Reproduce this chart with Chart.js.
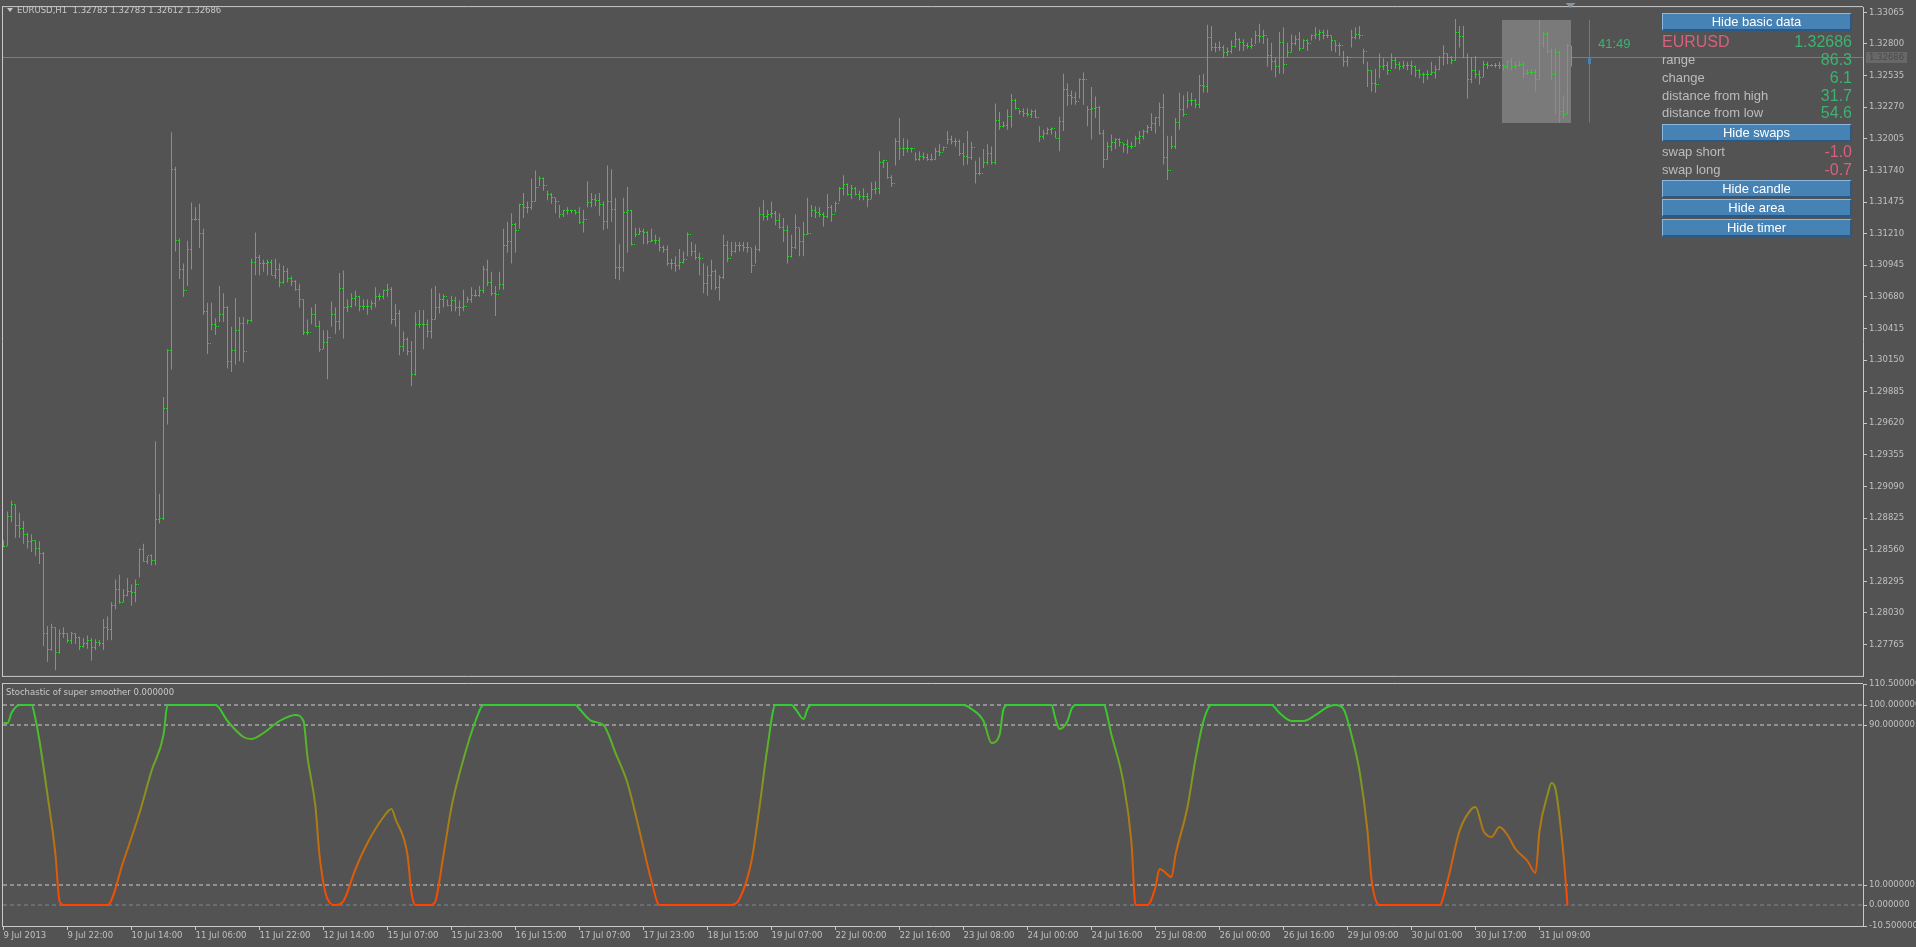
<!DOCTYPE html>
<html>
<head>
<meta charset="utf-8">
<script src="https://cdn.jsdelivr.net/npm/chart.js@4.4.0/dist/chart.umd.min.js"></script>
<style>
  html, body { margin: 0; padding: 0; background: #535353; width: 1916px; height: 947px; overflow: hidden; }
  canvas { position: absolute; left: 0; }
  #mainChart { top: 0; }
  #stochChart { top: 670px; }
  .txt { position: absolute; font-family: "DejaVu Sans"; font-size: 8.5px; line-height: 10px; color: #c8c8c8; white-space: pre; z-index: 2; }
  .tri { position: absolute; left: 7px; top: 8px; width: 0; height: 0; border-left: 3px solid transparent; border-right: 3px solid transparent; border-top: 4px solid #c8c8c8; z-index: 2; }
  .btn { position: absolute; left: 1662px; width: 187px; height: 15px; background: #4682b4; border-top: 1px solid #8ab8e0; border-left: 1px solid #8ab8e0; border-bottom: 2px solid #2b5884; border-right: 2px solid #2b5884; color: #fff; font: 13px "Liberation Sans"; line-height: 15px; text-align: center; z-index: 2; }
  .lbl { position: absolute; left: 1662px; font: 13px "Liberation Sans"; line-height: 16px; color: #bcbcbc; z-index: 2; }
  .val { position: absolute; right: 64px; font: 16px "Liberation Sans"; line-height: 18px; color: #3cb371; text-align: right; z-index: 2; }
  .red { color: #d8607f; }
</style>
</head>
<body>
<canvas id="mainChart" width="1916" height="683"></canvas>
<canvas id="stochChart" width="1916" height="277"></canvas>

<div class="tri"></div>
<div class="txt" style="left:17px;top:5px">EURUSD,H1  1.32783 1.32783 1.32612 1.32686</div>
<div class="txt" style="left:6px;top:687px">Stochastic of super smoother 0.000000</div>
<div class="val" style="left:1598px;right:auto;top:35px;font-size:13px">41:49</div>

<div class="btn" style="top:13px">Hide basic data</div>
<div class="lbl red" style="top:33px;font-size:16px;line-height:18px">EURUSD</div>
<div class="val" style="top:33px">1.32686</div>
<div class="lbl" style="top:52px">range</div>
<div class="val" style="top:51px">86.3</div>
<div class="lbl" style="top:70px">change</div>
<div class="val" style="top:69px">6.1</div>
<div class="lbl" style="top:88px">distance from high</div>
<div class="val" style="top:87px">31.7</div>
<div class="lbl" style="top:105px">distance from low</div>
<div class="val" style="top:104px">54.6</div>
<div class="btn" style="top:124px">Hide swaps</div>
<div class="lbl" style="top:144px">swap short</div>
<div class="val red" style="top:143px">-1.0</div>
<div class="lbl" style="top:162px">swap long</div>
<div class="val red" style="top:161px">-0.7</div>
<div class="btn" style="top:180px">Hide candle</div>
<div class="btn" style="top:199px">Hide area</div>
<div class="btn" style="top:219px">Hide timer</div>

<script>
// EURUSD H1, 9 Jul 2013 06:00 -> 31 Jul 2013 17:00 (one value per bar)
const highs = [
  1.2864, 1.2888, 1.2897, 1.2894, 1.2887, 1.2880, 1.2870, 1.2869, 1.2864, 1.2863,
  1.2854, 1.2792, 1.2794, 1.2791, 1.2789, 1.2791, 1.2786, 1.2787, 1.2786, 1.2783,
  1.2782, 1.2784, 1.2782, 1.2781, 1.2780, 1.2798, 1.2800, 1.2812, 1.2831, 1.2835,
  1.2823, 1.2832, 1.2827, 1.2831, 1.2857, 1.2861, 1.2851, 1.2852, 1.2947, 1.2903,
  1.2984, 1.3024, 1.3206, 1.3177, 1.3117, 1.3096, 1.3115, 1.3147, 1.3143, 1.3146,
  1.3125, 1.3063, 1.3063, 1.3050, 1.3077, 1.3071, 1.3060, 1.3043, 1.3067, 1.3051,
  1.3051, 1.3049, 1.3100, 1.3122, 1.3103, 1.3099, 1.3099, 1.3099, 1.3100, 1.3096,
  1.3094, 1.3092, 1.3085, 1.3082, 1.3079, 1.3066, 1.3049, 1.3059, 1.3062, 1.3048,
  1.3040, 1.3040, 1.3064, 1.3059, 1.3088, 1.3090, 1.3066, 1.3071, 1.3073, 1.3069,
  1.3066, 1.3066, 1.3065, 1.3076, 1.3071, 1.3074, 1.3079, 1.3076, 1.3062, 1.3057,
  1.3039, 1.3034, 1.3031, 1.3055, 1.3057, 1.3057, 1.3049, 1.3075, 1.3077, 1.3071,
  1.3070, 1.3066, 1.3069, 1.3068, 1.3065, 1.3074, 1.3068, 1.3076, 1.3074, 1.3077,
  1.3094, 1.3099, 1.3089, 1.3077, 1.3089, 1.3125, 1.3131, 1.3138, 1.3130, 1.3146,
  1.3155, 1.3148, 1.3167, 1.3174, 1.3169, 1.3168, 1.3157, 1.3155, 1.3151, 1.3145,
  1.3141, 1.3143, 1.3141, 1.3141, 1.3143, 1.3141, 1.3165, 1.3155, 1.3154, 1.3155,
  1.3148, 1.3178, 1.3175, 1.3151, 1.3112, 1.3151, 1.3160, 1.3141, 1.3126, 1.3126,
  1.3125, 1.3123, 1.3125, 1.3120, 1.3118, 1.3111, 1.3111, 1.3100, 1.3102, 1.3108,
  1.3106, 1.3122, 1.3114, 1.3112, 1.3105, 1.3096, 1.3094, 1.3099, 1.3091, 1.3086,
  1.3120, 1.3115, 1.3114, 1.3114, 1.3114, 1.3114, 1.3114, 1.3109, 1.3111, 1.3143,
  1.3149, 1.3141, 1.3148, 1.3140, 1.3138, 1.3134, 1.3128, 1.3120, 1.3137, 1.3126,
  1.3131, 1.3151, 1.3145, 1.3144, 1.3143, 1.3139, 1.3154, 1.3145, 1.3148, 1.3160,
  1.3170, 1.3163, 1.3162, 1.3160, 1.3157, 1.3159, 1.3155, 1.3164, 1.3165, 1.3190,
  1.3183, 1.3181, 1.3170, 1.3201, 1.3218, 1.3201, 1.3200, 1.3193, 1.3189, 1.3190,
  1.3189, 1.3188, 1.3188, 1.3193, 1.3196, 1.3194, 1.3207, 1.3203, 1.3201, 1.3200,
  1.3197, 1.3207, 1.3198, 1.3182, 1.3185, 1.3192, 1.3196, 1.3194, 1.3230, 1.3223,
  1.3215, 1.3225, 1.3238, 1.3234, 1.3225, 1.3226, 1.3226, 1.3225, 1.3225, 1.3211,
  1.3208, 1.3210, 1.3210, 1.3207, 1.3219, 1.3255, 1.3247, 1.3241, 1.3240, 1.3251,
  1.3256, 1.3228, 1.3244, 1.3236, 1.3228, 1.3208, 1.3198, 1.3204, 1.3201, 1.3201,
  1.3197, 1.3200, 1.3198, 1.3203, 1.3207, 1.3208, 1.3212, 1.3222, 1.3219, 1.3231,
  1.3238, 1.3203, 1.3203, 1.3218, 1.3239, 1.3237, 1.3240, 1.3239, 1.3234, 1.3254,
  1.3255, 1.3296, 1.3295, 1.3281, 1.3282, 1.3279, 1.3277, 1.3283, 1.3290, 1.3285,
  1.3284, 1.3281, 1.3285, 1.3291, 1.3297, 1.3292, 1.3285, 1.3281, 1.3268, 1.3290,
  1.3294, 1.3281, 1.3288, 1.3287, 1.3290, 1.3284, 1.3284, 1.3288, 1.3294, 1.3292,
  1.3292, 1.3292, 1.3287, 1.3283, 1.3281, 1.3274, 1.3270, 1.3292, 1.3294, 1.3295,
  1.3276, 1.3265, 1.3258, 1.3259, 1.3272, 1.3268, 1.3265, 1.3272, 1.3269, 1.3265,
  1.3266, 1.3265, 1.3266, 1.3262, 1.3259, 1.3256, 1.3258, 1.3265, 1.3262, 1.3270,
  1.3279, 1.3272, 1.3270, 1.3301, 1.3295, 1.3295, 1.3272, 1.3269, 1.3270, 1.3258,
  1.3266, 1.3265, 1.3263, 1.3264, 1.3265, 1.3263, 1.3266, 1.3268, 1.3265, 1.3266,
  1.3265, 1.3259, 1.3259, 1.3259, 1.33003, 1.3290, 1.3290, 1.3276, 1.3276, 1.3274,
  1.3237, 1.3280, 1.32783
];
const lows = [
  1.2858, 1.2859, 1.2879, 1.2866, 1.2866, 1.2861, 1.2857, 1.2854, 1.2851, 1.2844,
  1.2775, 1.2762, 1.2771, 1.2755, 1.2769, 1.2782, 1.2778, 1.2777, 1.2777, 1.2772,
  1.2774, 1.2773, 1.2763, 1.2772, 1.2775, 1.2772, 1.2780, 1.2780, 1.2806, 1.2811,
  1.2812, 1.2817, 1.2809, 1.2812, 1.2833, 1.2846, 1.2844, 1.2843, 1.2843, 1.2878,
  1.2881, 1.2961, 1.3007, 1.3106, 1.3083, 1.3068, 1.3077, 1.3091, 1.3132, 1.3109,
  1.3053, 1.3020, 1.3040, 1.3036, 1.3047, 1.3047, 1.3008, 1.3005, 1.3011, 1.3014,
  1.3013, 1.3045, 1.3047, 1.3086, 1.3086, 1.3089, 1.3086, 1.3086, 1.3083, 1.3076,
  1.3079, 1.3080, 1.3077, 1.3073, 1.3059, 1.3036, 1.3036, 1.3045, 1.3043, 1.3022,
  1.3024, 1.2999, 1.3043, 1.3037, 1.3040, 1.3033, 1.3055, 1.3059, 1.3060, 1.3056,
  1.3057, 1.3053, 1.3057, 1.3059, 1.3065, 1.3066, 1.3068, 1.3045, 1.3043, 1.3019,
  1.3022, 1.3019, 1.2993, 1.3002, 1.3042, 1.3024, 1.3034, 1.3033, 1.3049, 1.3054,
  1.3059, 1.3060, 1.3056, 1.3056, 1.3052, 1.3056, 1.3063, 1.3063, 1.3068, 1.3068,
  1.3071, 1.3077, 1.3069, 1.3052, 1.3074, 1.3074, 1.3105, 1.3096, 1.3105, 1.3125,
  1.3134, 1.3138, 1.3141, 1.3148, 1.3161, 1.3157, 1.3149, 1.3146, 1.3138, 1.3134,
  1.3135, 1.3137, 1.3138, 1.3137, 1.3129, 1.3122, 1.3143, 1.3143, 1.3144, 1.3136,
  1.3124, 1.3125, 1.3131, 1.3083, 1.3082, 1.3089, 1.3105, 1.3111, 1.3118, 1.3120,
  1.3112, 1.3112, 1.3114, 1.3112, 1.3106, 1.3105, 1.3094, 1.3091, 1.3089, 1.3091,
  1.3096, 1.3102, 1.3102, 1.3099, 1.3086, 1.3071, 1.3069, 1.3074, 1.3074, 1.3065,
  1.3083, 1.3097, 1.3102, 1.3105, 1.3106, 1.3106, 1.3105, 1.3088, 1.3096, 1.3106,
  1.3132, 1.3132, 1.3134, 1.3128, 1.3125, 1.3114, 1.3096, 1.3101, 1.3108, 1.3102,
  1.3102, 1.3120, 1.3135, 1.3134, 1.3135, 1.3127, 1.3134, 1.3131, 1.3139, 1.3148,
  1.3153, 1.3153, 1.3150, 1.3153, 1.3149, 1.3149, 1.3143, 1.3150, 1.3154, 1.3154,
  1.3176, 1.3167, 1.3160, 1.3178, 1.3183, 1.3186, 1.3189, 1.3189, 1.3182, 1.3182,
  1.3183, 1.3182, 1.3182, 1.3183, 1.3186, 1.3190, 1.3196, 1.3196, 1.3194, 1.3186,
  1.3178, 1.3179, 1.3183, 1.3163, 1.3170, 1.3176, 1.3179, 1.3179, 1.3179, 1.3208,
  1.3210, 1.3208, 1.3210, 1.3225, 1.3221, 1.3219, 1.3219, 1.3218, 1.3218, 1.3198,
  1.3200, 1.3204, 1.3204, 1.3201, 1.3190, 1.3207, 1.3228, 1.3229, 1.3229, 1.3234,
  1.3229, 1.3211, 1.3200, 1.3218, 1.3204, 1.3176, 1.3183, 1.3190, 1.3192, 1.3194,
  1.3189, 1.3188, 1.3192, 1.3194, 1.3196, 1.3200, 1.3205, 1.3207, 1.3205, 1.3211,
  1.3179, 1.3166, 1.3192, 1.3192, 1.3208, 1.3219, 1.3226, 1.3228, 1.3226, 1.3226,
  1.3239, 1.3239, 1.3274, 1.3273, 1.3274, 1.3268, 1.3270, 1.3272, 1.3277, 1.3274,
  1.3274, 1.3276, 1.3276, 1.3280, 1.3281, 1.3280, 1.3261, 1.3258, 1.3252, 1.3255,
  1.3255, 1.3269, 1.3273, 1.3279, 1.3274, 1.3276, 1.3274, 1.3283, 1.3284, 1.3283,
  1.3284, 1.3285, 1.3274, 1.3273, 1.3270, 1.3261, 1.3261, 1.3277, 1.3284, 1.3284,
  1.3263, 1.3244, 1.3240, 1.3239, 1.3251, 1.3258, 1.3254, 1.3259, 1.3259, 1.3258,
  1.3259, 1.3258, 1.3254, 1.3252, 1.3251, 1.3247, 1.3250, 1.3254, 1.3251, 1.3258,
  1.3262, 1.3263, 1.3263, 1.3266, 1.3277, 1.3268, 1.3234, 1.3247, 1.3251, 1.3246,
  1.3252, 1.3259, 1.3261, 1.3260, 1.3259, 1.3258, 1.3259, 1.3258, 1.3259, 1.3261,
  1.3251, 1.3254, 1.3254, 1.3240, 1.3250, 1.3277, 1.3272, 1.3250, 1.3221, 1.3214,
  1.3218, 1.3221, 1.32612
];
const closes = [
  1.2859, 1.2884, 1.2894, 1.2876, 1.2874, 1.2869, 1.2863, 1.2864, 1.2857, 1.2853,
  1.2786, 1.2772, 1.2791, 1.2770, 1.2786, 1.2786, 1.2780, 1.2786, 1.2782, 1.2775,
  1.2777, 1.2780, 1.2774, 1.2778, 1.2777, 1.2791, 1.2789, 1.2809, 1.2823, 1.2812,
  1.2818, 1.2821, 1.2820, 1.2827, 1.2856, 1.2846, 1.2851, 1.2847, 1.2881, 1.2882,
  1.2974, 1.3023, 1.3175, 1.3115, 1.3091, 1.3073, 1.3108, 1.3133, 1.3133, 1.3121,
  1.3056, 1.3029, 1.3045, 1.3043, 1.3053, 1.3059, 1.3014, 1.3023, 1.3040, 1.3046,
  1.3022, 1.3048, 1.3097, 1.3101, 1.3096, 1.3096, 1.3097, 1.3086, 1.3091, 1.3080,
  1.3089, 1.3083, 1.3081, 1.3074, 1.3066, 1.3038, 1.3038, 1.3053, 1.3043, 1.3024,
  1.3030, 1.3034, 1.3053, 1.3047, 1.3075, 1.3059, 1.3060, 1.3067, 1.3068, 1.3060,
  1.3060, 1.3060, 1.3062, 1.3068, 1.3068, 1.3073, 1.3074, 1.3049, 1.3054, 1.3026,
  1.3032, 1.3022, 1.3003, 1.3045, 1.3045, 1.3045, 1.3039, 1.3049, 1.3059, 1.3066,
  1.3068, 1.3061, 1.3065, 1.3059, 1.3059, 1.3060, 1.3066, 1.3069, 1.3069, 1.3073,
  1.3091, 1.3080, 1.3071, 1.3070, 1.3078, 1.3111, 1.3114, 1.3129, 1.3124, 1.3145,
  1.3143, 1.3143, 1.3148, 1.3160, 1.3167, 1.3161, 1.3154, 1.3151, 1.3148, 1.3137,
  1.3140, 1.3140, 1.3140, 1.3139, 1.3130, 1.3133, 1.3147, 1.3150, 1.3149, 1.3145,
  1.3131, 1.3148, 1.3141, 1.3093, 1.3093, 1.3139, 1.3140, 1.3112, 1.3120, 1.3123,
  1.3122, 1.3114, 1.3115, 1.3115, 1.3109, 1.3108, 1.3096, 1.3096, 1.3094, 1.3097,
  1.3099, 1.3120, 1.3106, 1.3101, 1.3100, 1.3079, 1.3086, 1.3089, 1.3076, 1.3084,
  1.3111, 1.3100, 1.3106, 1.3111, 1.3111, 1.3109, 1.3109, 1.3094, 1.3108, 1.3137,
  1.3135, 1.3137, 1.3138, 1.3132, 1.3126, 1.3124, 1.3102, 1.3109, 1.3126, 1.3114,
  1.3120, 1.3121, 1.3140, 1.3139, 1.3137, 1.3135, 1.3143, 1.3137, 1.3146, 1.3159,
  1.3162, 1.3154, 1.3159, 1.3154, 1.3152, 1.3152, 1.3150, 1.3158, 1.3159, 1.3181,
  1.3182, 1.3168, 1.3163, 1.3198, 1.3192, 1.3192, 1.3192, 1.3192, 1.3183, 1.3186,
  1.3185, 1.3183, 1.3183, 1.3190, 1.3189, 1.3193, 1.3200, 1.3198, 1.3198, 1.3188,
  1.3186, 1.3185, 1.3193, 1.3171, 1.3171, 1.3181, 1.3188, 1.3181, 1.3216, 1.3211,
  1.3212, 1.3219, 1.3233, 1.3226, 1.3223, 1.3222, 1.3221, 1.3223, 1.3218, 1.3202,
  1.3205, 1.3208, 1.3209, 1.3201, 1.3215, 1.3242, 1.3237, 1.3235, 1.3232, 1.3250,
  1.3250, 1.3225, 1.3226, 1.3227, 1.3205, 1.3183, 1.3194, 1.3197, 1.3200, 1.3197,
  1.3196, 1.3194, 1.3194, 1.3201, 1.3202, 1.3207, 1.3210, 1.3213, 1.3218, 1.3227,
  1.3185, 1.3174, 1.3194, 1.3214, 1.3225, 1.3221, 1.3233, 1.3233, 1.3229, 1.3245,
  1.3244, 1.3285, 1.3277, 1.3277, 1.3277, 1.3273, 1.3274, 1.3278, 1.3284, 1.3281,
  1.3279, 1.3278, 1.3279, 1.3287, 1.3286, 1.3287, 1.3270, 1.3265, 1.3261, 1.3281,
  1.3263, 1.3273, 1.3280, 1.3284, 1.3276, 1.3283, 1.3280, 1.3287, 1.3288, 1.3290,
  1.3287, 1.3287, 1.3283, 1.3279, 1.3279, 1.3265, 1.3269, 1.3285, 1.3288, 1.3287,
  1.3274, 1.3258, 1.3247, 1.3246, 1.3261, 1.3262, 1.3258, 1.3266, 1.3263, 1.3261,
  1.3262, 1.3262, 1.3261, 1.3258, 1.3254, 1.3254, 1.3254, 1.3256, 1.3259, 1.3269,
  1.3272, 1.3269, 1.3266, 1.3290, 1.3286, 1.3269, 1.3250, 1.3258, 1.3254, 1.3252,
  1.3263, 1.3262, 1.3262, 1.3262, 1.3262, 1.3261, 1.3265, 1.3261, 1.3262, 1.3263,
  1.3255, 1.3256, 1.3256, 1.3250, 1.3280, 1.3288, 1.3274, 1.3254, 1.3273, 1.3223,
  1.3221, 1.32783, 1.32686
];
const firstOpen = 1.2862;
const dayStart = 375; // first bar of 31 Jul

// time axis labels, one every 16 bars
const timeLabels = [
  '9 Jul 2013', '9 Jul 22:00', '10 Jul 14:00', '11 Jul 06:00', '11 Jul 22:00',
  '12 Jul 14:00', '15 Jul 07:00', '15 Jul 23:00', '16 Jul 15:00', '17 Jul 07:00',
  '17 Jul 23:00', '18 Jul 15:00', '19 Jul 07:00', '22 Jul 00:00', '22 Jul 16:00',
  '23 Jul 08:00', '24 Jul 00:00', '24 Jul 16:00', '25 Jul 08:00', '26 Jul 00:00',
  '26 Jul 16:00', '29 Jul 09:00', '30 Jul 01:00', '30 Jul 17:00', '31 Jul 09:00'
];
const priceTicks = [
  1.33065, 1.32800, 1.32535, 1.32270, 1.32005, 1.31740, 1.31475, 1.31210, 1.30945, 1.30680, 1.30415,
  1.30150, 1.29885, 1.29620, 1.29355, 1.29090, 1.28825, 1.28560, 1.28295, 1.28030, 1.27765
];

// stochastic of super smoother, read at bar indices
const stochBars = [
  0, 1, 2, 4, 7, 8, 9, 11, 13, 14, 15, 26, 30, 34, 37, 40, 41, 53, 56, 60,
  62, 65, 69, 73, 75, 76, 78, 79, 81, 83, 85, 88, 91, 95, 97, 98, 101, 102, 103, 107,
  108, 110, 112, 115, 118, 120, 143, 144, 147, 150, 153, 156, 159, 162, 164, 182, 184, 187, 189, 191,
  193, 197, 198, 200, 201, 202, 240, 242, 245, 247, 249, 250, 251, 262, 263, 264, 266, 267, 268, 275,
  277, 280, 282, 283, 286, 288, 289, 290, 292, 293, 296, 298, 300, 302, 317, 319, 322, 325, 328, 331,
  333, 335, 337, 339, 341, 342, 344, 359, 361, 364, 367, 368, 370, 372, 374, 376, 378, 381, 383, 384,
  386, 387, 388, 390, 391
];
const stochValues = [
  91, 91, 96, 100, 100, 93, 82, 55, 25, 2, 0, 0, 22, 46, 67, 85, 100, 100, 92, 84,
  83, 86, 92, 95, 92, 74, 49, 25, 3, 0, 2, 18, 31, 44, 48, 43, 25, 6, 0, 0,
  2, 25, 49, 73, 92, 100, 100, 98, 92, 90, 76, 61, 37, 12, 0, 0, 3, 22, 49, 79,
  100, 100, 98, 93, 98, 100, 100, 98, 92, 81, 85, 98, 100, 100, 93, 88, 92, 98, 100, 100,
  85, 61, 31, 0, 0, 9, 18, 17, 14, 25, 49, 73, 92, 100, 100, 96, 92, 92, 95, 99,
  100, 98, 85, 67, 37, 13, 0, 0, 12, 37, 48, 49, 37, 34, 39, 35, 28, 22, 16, 37,
  55, 61, 58, 25, 0
];
const stochLevels = [100, 90, 10, 0];
const stochTicks = [110.5, 100, 90, 10, 0, -10.5];

const barColor = '#32cd32';
const frameColor = '#c8c8c8';
const textColor = '#c0c0c0';
const axisFont = { family: 'DejaVu Sans', size: 8.5 };
const xMin = -0.125, xMax = 464.875;   // 4 px per H1 bar over the 1860 px plot
const yMin = 1.27502, yMax = 1.33109;

const opens = closes.map((c, i) => i ? closes[i - 1] : firstOpen);
const last = closes.length - 1;

function frameLines(chart, withBottom) {
  const { ctx, chartArea: a } = chart;
  ctx.save();
  ctx.strokeStyle = frameColor;
  ctx.lineWidth = 1;
  ctx.beginPath();
  ctx.moveTo(a.left - 1, a.top - 0.5); ctx.lineTo(a.right, a.top - 0.5);
  ctx.moveTo(a.left - 0.5, a.top - 1); ctx.lineTo(a.left - 0.5, a.bottom + 1);
  if (withBottom) { ctx.moveTo(a.left - 1, a.bottom + 0.5); ctx.lineTo(a.right + 1, a.bottom + 0.5); }
  ctx.stroke();
  ctx.restore();
}

const mainDecor = {
  id: 'mainDecor',
  beforeDatasetsDraw(chart) {
    const { ctx, chartArea: a, scales: { x, y } } = chart;
    const dayHigh = Math.max(...highs.slice(dayStart));
    const dayLow = Math.min(...lows.slice(dayStart));
    const x0 = Math.floor(x.getPixelForValue(dayStart)) - 1;
    const x1 = Math.floor(x.getPixelForValue(last));
    ctx.save();
    ctx.fillStyle = '#7a7a7a';
    ctx.fillRect(x0, Math.round(y.getPixelForValue(dayHigh)), x1 - x0,
      Math.round(y.getPixelForValue(dayLow)) - Math.round(y.getPixelForValue(dayHigh)));
    const yb = Math.floor(y.getPixelForValue(closes[last])) + 0.5;
    ctx.strokeStyle = '#7c7c7c';
    ctx.lineWidth = 1;
    ctx.beginPath(); ctx.moveTo(a.left, yb); ctx.lineTo(a.right, yb); ctx.stroke();
    ctx.restore();
  },
  afterDatasetsDraw(chart) {
    const { ctx, scales: { x, y } } = chart;
    ctx.save();
    ctx.fillStyle = barColor;
    for (let i = 0; i <= last; i++) {
      const cx = Math.floor(x.getPixelForValue(i));
      ctx.fillRect(cx - 1, Math.floor(y.getPixelForValue(opens[i])), 1, 1);
      ctx.fillRect(cx + 1, Math.floor(y.getPixelForValue(closes[i])), 1, 1);
    }
    // candle timer
    const tx = Math.floor(x.getPixelForValue(last + 4.5)) + 0.5;
    const dayHigh = Math.max(...highs.slice(dayStart));
    const dayLow = Math.min(...lows.slice(dayStart));
    ctx.strokeStyle = '#4682b4';
    ctx.lineWidth = 1;
    ctx.beginPath(); ctx.moveTo(tx, y.getPixelForValue(dayHigh)); ctx.lineTo(tx, y.getPixelForValue(dayLow)); ctx.stroke();
    ctx.fillStyle = '#4682b4';
    ctx.fillRect(tx - 1.5, Math.floor(y.getPixelForValue(closes[last])), 3, 7);
    ctx.restore();
  },
  afterDraw(chart) {
    const { ctx, chartArea: a, scales: { x, y } } = chart;
    frameLines(chart, true);
    ctx.save();
    // shift marker
    const cx = Math.floor(x.getPixelForValue(last)) - 0.5;
    ctx.fillStyle = '#8494a4';
    ctx.beginPath(); ctx.moveTo(cx - 5, 3); ctx.lineTo(cx + 5, 3); ctx.lineTo(cx, 8); ctx.closePath(); ctx.fill();
    // bid price tag
    const yb = Math.floor(y.getPixelForValue(closes[last]));
    ctx.fillStyle = '#686868';
    ctx.fillRect(a.right + 3, yb - 5, 41, 11);
    ctx.fillStyle = '#4c4c4c';
    ctx.font = '8.5px "DejaVu Sans"';
    ctx.textBaseline = 'middle';
    ctx.fillText(closes[last].toFixed(5), a.right + 6, yb + 0.5);
    ctx.restore();
  }
};

new Chart(document.getElementById('mainChart'), {
  type: 'bar',
  data: {
    datasets: [{
      data: highs.map((h, i) => ({ x: i, y: [lows[i], h] })),
      backgroundColor: barColor,
      borderWidth: 0,
      barThickness: 1,
      inflateAmount: 0
    }]
  },
  options: {
    responsive: false,
    animation: false,
    events: [],
    layout: { padding: { left: 3, top: 3, bottom: 3, right: 0 } },
    plugins: { legend: { display: false }, tooltip: { enabled: false } },
    scales: {
      x: { type: 'linear', min: xMin, max: xMax, display: false, offset: false },
      y: {
        position: 'right', min: yMin, max: yMax,
        afterFit(s) { s.width = 53; },
        afterBuildTicks(s) { s.ticks = priceTicks.map(v => ({ value: v })); },
        ticks: { callback: v => v.toFixed(5), color: textColor, font: axisFont, padding: 2 },
        grid: { drawOnChartArea: false, tickLength: 4, color: frameColor },
        border: { color: frameColor }
      }
    }
  },
  plugins: [mainDecor]
});

const stochDecor = {
  id: 'stochDecor',
  afterDraw(chart) { frameLines(chart, false); }
};

const levelSets = stochLevels.map(lv => ({
  data: [{ x: xMin, y: lv }, { x: xMax, y: lv }],
  borderColor: lv === 0 ? '#7d8b99' : '#cfcfcf',
  borderWidth: 1,
  borderDash: [4, 3],
  pointRadius: 0
}));

new Chart(document.getElementById('stochChart'), {
  type: 'line',
  data: {
    datasets: [{
      data: stochBars.map((b, i) => ({ x: b, y: stochValues[i] })),
      borderWidth: 2,
      pointRadius: 0,
      cubicInterpolationMode: 'monotone',
      borderColor(c) {
        const ch = c.chart;
        if (!ch.chartArea) return barColor;
        const ys = ch.scales.y;
        const g = ch.ctx.createLinearGradient(0, ys.getPixelForValue(100), 0, ys.getPixelForValue(0));
        g.addColorStop(0, 'rgb(50,205,50)');
        g.addColorStop(1, 'rgb(255,69,0)');
        return g;
      }
    }, ...levelSets]
  },
  options: {
    responsive: false,
    animation: false,
    events: [],
    layout: { padding: { left: 3, top: 14, bottom: 0, right: 0 } },
    plugins: { legend: { display: false }, tooltip: { enabled: false } },
    scales: {
      x: {
        type: 'linear', min: xMin, max: xMax, offset: false,
        afterFit(s) { s.height = 21; },
        afterBuildTicks(s) { s.ticks = timeLabels.map((t, k) => ({ value: k * 16 })); },
        ticks: { callback: v => timeLabels[v / 16], align: 'start', maxRotation: 0, autoSkip: false, color: textColor, font: axisFont, padding: 1 },
        grid: { drawOnChartArea: false, tickLength: 4, color: frameColor },
        border: { color: frameColor }
      },
      y: {
        position: 'right', min: -10.5, max: 110.5,
        afterFit(s) { s.width = 53; },
        afterBuildTicks(s) { s.ticks = stochTicks.map(v => ({ value: v })); },
        ticks: { callback: v => v.toFixed(6), color: textColor, font: axisFont, padding: 2 },
        grid: { drawOnChartArea: false, tickLength: 4, color: frameColor },
        border: { color: frameColor }
      }
    }
  },
  plugins: [stochDecor]
});
</script>
</body>
</html>
